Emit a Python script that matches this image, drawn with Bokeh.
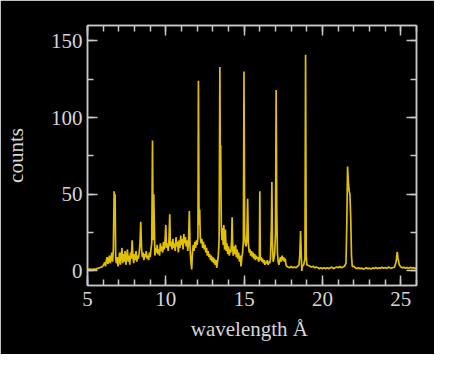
from bokeh.plotting import figure
from bokeh.models import LinearAxis, SingleIntervalTicker, Range1d
from bokeh.embed import file_html
from bokeh.resources import INLINE

# X-ray spectrum: wavelength (Angstrom) and counts
wavelength = [
    5.0, 5.1, 5.2, 5.3, 5.4, 5.5, 5.6, 5.7, 5.8, 5.9, 6.0, 6.1, 6.15, 6.2, 6.25, 6.3, 6.35, 6.4, 6.45, 6.5,
    6.55, 6.6, 6.65, 6.70, 6.73, 6.76, 6.80, 6.85, 6.9, 6.95, 7.0, 7.05, 7.1, 7.15, 7.2, 7.25, 7.3, 7.35,
    7.4, 7.45, 7.5, 7.55, 7.6, 7.65, 7.7, 7.75, 7.8, 7.85, 7.9, 7.95, 8.0, 8.05, 8.1, 8.15, 8.2, 8.25, 8.3,
    8.35, 8.40, 8.45, 8.5, 8.55, 8.6, 8.65, 8.7, 8.75, 8.8, 8.85, 8.9, 8.95, 9.0, 9.05, 9.1, 9.15, 9.19,
    9.23, 9.28, 9.3, 9.35, 9.4, 9.45, 9.5, 9.55, 9.6, 9.65, 9.7, 9.75, 9.8, 9.85, 9.9, 9.95, 10.0, 10.04,
    10.1, 10.15, 10.2, 10.25, 10.29, 10.35, 10.4, 10.45, 10.5, 10.55, 10.6, 10.65, 10.7, 10.75, 10.8,
    10.85, 10.9, 10.95, 11.0, 11.05, 11.1, 11.15, 11.2, 11.25, 11.3, 11.35, 11.4, 11.45, 11.5, 11.55,
    11.6, 11.65, 11.7, 11.75, 11.8, 11.85, 11.9, 11.95, 12.0, 12.05, 12.08, 12.12, 12.16, 12.2, 12.25,
    12.3, 12.35, 12.4, 12.45, 12.5, 12.55, 12.6, 12.65, 12.7, 12.75, 12.8, 12.85, 12.9, 12.95, 13.0,
    13.05, 13.1, 13.15, 13.2, 13.25, 13.3, 13.35, 13.4, 13.45, 13.48, 13.5, 13.54, 13.58, 13.62, 13.66,
    13.7, 13.75, 13.8, 13.85, 13.9, 13.95, 14.0, 14.05, 14.1, 14.15, 14.2, 14.23, 14.27, 14.3, 14.35,
    14.4, 14.45, 14.5, 14.55, 14.6, 14.65, 14.7, 14.75, 14.8, 14.85, 14.9, 14.95, 14.99, 15.03, 15.07,
    15.12, 15.17, 15.22, 15.27, 15.32, 15.37, 15.42, 15.47, 15.52, 15.57, 15.62, 15.67, 15.72, 15.77,
    15.82, 15.87, 15.92, 15.97, 16.0, 16.03, 16.08, 16.13, 16.18, 16.23, 16.28, 16.33, 16.38, 16.43,
    16.48, 16.53, 16.58, 16.63, 16.68, 16.74, 16.77, 16.8, 16.85, 16.9, 16.95, 17.0, 17.04, 17.08, 17.12,
    17.17, 17.22, 17.27, 17.32, 17.37, 17.42, 17.47, 17.52, 17.57, 17.62, 17.67, 17.72, 17.8, 17.9, 18.0,
    18.1, 18.2, 18.3, 18.4, 18.5, 18.55, 18.6, 18.64, 18.68, 18.72, 18.8, 18.88, 18.92, 18.96, 19.0, 19.1,
    19.2, 19.3, 19.4, 19.5, 19.6, 19.7, 19.8, 19.9, 20.0, 20.1, 20.2, 20.3, 20.4, 20.5, 20.6, 20.7, 20.8,
    20.9, 21.0, 21.1, 21.2, 21.3, 21.4, 21.5, 21.55, 21.6, 21.65, 21.7, 21.75, 21.8, 21.85, 21.9, 22.0,
    22.1, 22.2, 22.3, 22.4, 22.5, 22.6, 22.7, 22.8, 22.9, 23.0, 23.1, 23.2, 23.3, 23.4, 23.5, 23.6, 23.7,
    23.8, 23.9, 24.0, 24.1, 24.2, 24.3, 24.4, 24.5, 24.6, 24.7, 24.77, 24.82, 24.9, 25.0, 25.1, 25.2,
    25.3, 25.4, 25.5, 25.6, 25.7, 25.8, 25.9, 26.0,
]
counts = [
    1.5, 1.0, 1.2, 0.8, 1.3, 1.0, 1.5, 1.8, 2.2, 2.5, 3.5, 5.5, 3.0, 6.5, 9, 4.5, 7, 10, 5, 8,
    12, 6, 14, 52, 30, 50, 8, 5, 9, 3, 7, 12, 4, 10, 15, 5, 11, 6,
    13, 4, 9, 14, 6, 10, 4, 12, 8, 20, 9, 5, 11, 7, 13, 6, 10, 8, 12,
    18, 32, 14, 9, 12, 7, 11, 9, 13, 8, 10, 7, 12, 9, 14, 18, 85, 20,
    50, 22, 10, 15, 12, 17, 11, 14, 10, 18, 13, 16, 12, 19, 14, 20, 30, 15,
    18, 13, 20, 37, 16, 19, 14, 21, 15, 18, 13, 22, 16, 19, 12,
    20, 15, 23, 17, 21, 14, 24, 18, 22, 16, 20, 13, 19, 39, 14,
    6, 1, 12, 17, 13, 19, 15, 20, 17, 22, 124, 30, 40, 22, 18,
    21, 15, 19, 14, 17, 12, 15, 10, 13, 9, 11, 7, 10, 6, 9,
    5, 8, 4, 7, 2, 6, 10, 20, 133, 60, 82, 30, 20, 28, 17,
    30, 14, 27, 13, 18, 11, 16, 10, 14, 12, 20, 35, 15, 10, 16,
    11, 17, 9, 14, 8, 12, 6, 10, 3, 9, 12, 20, 130, 25, 18,
    16, 20, 47, 18, 12, 14, 10, 13, 9, 12, 8, 11, 7, 10,
    8, 9, 6, 8, 52, 7, 9, 6, 8, 5, 7, 4, 6, 5,
    7, 4, 6, 5, 8, 30, 58, 20, 6, 8, 12, 25, 118, 40, 12,
    6, 4, 7, 9, 6, 10, 7, 9, 6, 8, 4, 3, 2.5, 2, 3,
    2, 2.5, 2, 3, 4, 10, 26, 12, 0, 3, 4, 8, 141, 10, 4, 3.5,
    3, 2.5, 3, 2, 2.5, 2, 1.5, 2, 1.5, 2, 1.5, 2, 1.5, 2, 2.5, 1.5, 2,
    2.5, 2, 3, 2, 2.5, 3, 5, 30, 68, 58, 52, 50, 35, 10, 3, 3,
    2, 1.5, 2, 1.5, 1.8, 1.2, 1.6, 2, 1.5, 1.8, 1.3, 2, 1.6, 2.2, 1.5, 2, 1.7,
    2.4, 1.8, 2.2, 1.6, 2.5, 2, 1.8, 2.2, 2.5, 6, 12.5, 8, 4, 2.5, 2, 2.4,
    1.8, 2.2, 1.6, 2.3, 1.9, 2.1, 1.7, 2, 2,
]

x_ticks_interval = 5
y_ticks_interval = 50
x_label = "wavelength  \u00c5"
y_label = "counts"

FONT = "Liberation Serif"
TXT = "#d6d6d6"
AX = "#c8c8c8"

p = figure(width=434, height=354, output_backend="svg", toolbar_location=None,
           x_range=Range1d(5, 26), y_range=Range1d(-9.5, 160),
           min_border_left=85, min_border_right=18, min_border_top=25, min_border_bottom=69)
p.background_fill_color = "black"
p.border_fill_color = "black"
p.outline_line_color = AX
p.outline_line_width = 1.5
p.xgrid.visible = False
p.ygrid.visible = False

p.line(wavelength, counts, line_color="#e0c000", line_width=1.7)

xt = SingleIntervalTicker(interval=x_ticks_interval, num_minor_ticks=5)
yt = SingleIntervalTicker(interval=y_ticks_interval, num_minor_ticks=2)

bottom = p.below[0]
left = p.left[0]
bottom.ticker = xt
left.ticker = yt

top = LinearAxis(ticker=xt)
right = LinearAxis(ticker=yt)
p.add_layout(top, "above")
p.add_layout(right, "right")

for ax in [bottom, left, top, right]:
    ax.axis_line_color = AX
    ax.axis_line_width = 1.5
    ax.major_tick_line_color = AX
    ax.minor_tick_line_color = AX
    ax.major_tick_line_width = 1.5
    ax.minor_tick_line_width = 1.5
    ax.major_tick_in = 10
    ax.major_tick_out = 0
    ax.minor_tick_in = 6
    ax.minor_tick_out = 0
    ax.major_label_text_font = FONT
    ax.major_label_text_font_size = "21px"
    ax.major_label_text_color = TXT
    ax.axis_label_text_font = FONT
    ax.axis_label_text_font_size = "21px"
    ax.axis_label_text_color = TXT
    ax.axis_label_text_font_style = "normal"

for ax in [top, right]:
    ax.major_label_text_color = None
    ax.major_label_text_font_size = "0px"
    ax.major_label_standoff = 0

bottom.axis_label = x_label
left.axis_label = y_label
bottom.major_label_standoff = 6
left.major_label_standoff = 5
bottom.axis_label_standoff = 8
left.axis_label_standoff = 20

open("out.html", "w").write(file_html(p, INLINE))
